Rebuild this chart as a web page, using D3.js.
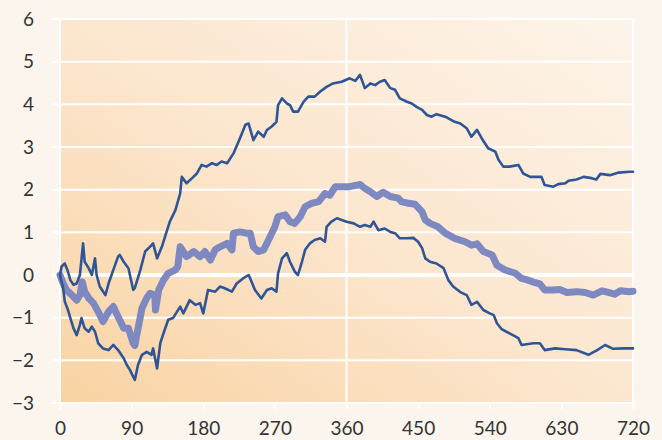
<!DOCTYPE html>
<html><head><meta charset="utf-8">
<script src="https://cdn.jsdelivr.net/npm/d3@7"></script>
<style>
html,body{margin:0;padding:0;background:#fcf5ee;}
svg{display:block;font-family:Lato,"Noto Sans",sans-serif;}
</style></head>
<body>
<svg id="chart" width="662" height="440"></svg>
<script>
// ---- data ----
const xTicks = [0, 90, 180, 270, 360, 450, 540, 630, 720];
const yTicks = [-3, -2, -1, 0, 1, 2, 3, 4, 5, 6];

const upperDays = [0,2,6,10,13,17,21,25,29,31,36,40,44,46,50,57,61,67,73,75,80,86,92,94,101,107,113,117,122,128,132,138,145,151,153,159,166,172,178,184,191,197,203,210,218,226,233,237,243,249,256,260,266,272,274,279,285,289,293,299,306,312,320,327,335,343,354,364,371,377,383,390,396,402,408,415,421,427,436,442,448,455,461,467,473,484,496,503,511,517,524,530,538,547,551,557,565,576,582,591,605,609,620,626,635,639,649,658,668,674,679,691,702,716,720];
const upperVals = [0,0.2,0.27,0.08,-0.12,-0.23,-0.2,0,0.74,0.31,0.16,0,0.39,0,-0.27,-0.47,-0.2,0.12,0.43,0.47,0.31,0.16,-0.35,-0.31,0.12,0.55,0.66,0.74,0.39,0.66,0.9,1.25,1.52,1.91,2.3,2.15,2.27,2.38,2.58,2.54,2.62,2.58,2.66,2.62,2.85,3.2,3.52,3.55,3.16,3.36,3.24,3.4,3.48,3.59,3.98,4.14,4.02,3.98,3.83,3.83,4.06,4.18,4.18,4.3,4.41,4.49,4.53,4.61,4.55,4.69,4.38,4.49,4.45,4.53,4.57,4.38,4.34,4.14,4.06,4.02,3.94,3.87,3.75,3.71,3.77,3.71,3.59,3.55,3.44,3.24,3.4,3.2,2.97,2.89,2.7,2.54,2.54,2.58,2.38,2.3,2.3,2.11,2.07,2.13,2.15,2.21,2.24,2.3,2.27,2.24,2.37,2.34,2.4,2.42,2.42];

const middleDays = [0,4,8,15,21,25,28,31,36,42,48,54,61,67,73,80,86,92,94,103,109,113,119,120,124,130,136,145,148,151,159,168,176,182,189,195,201,210,216,218,226,235,239,243,249,256,262,270,274,283,289,295,302,308,316,325,333,339,346,354,364,377,383,390,398,406,415,425,429,438,446,455,459,465,475,484,496,509,517,524,532,543,549,559,572,580,588,597,603,609,620,628,637,649,660,670,681,689,697,704,716,720];
const middleVals = [0,-0.2,-0.35,-0.47,-0.59,-0.47,-0.16,-0.39,-0.54,-0.66,-0.86,-1.09,-0.86,-0.74,-0.98,-1.25,-1.25,-1.6,-1.65,-0.78,-0.54,-0.43,-0.47,-0.82,-0.35,-0.12,0.04,0.12,0.2,0.66,0.43,0.55,0.43,0.55,0.35,0.59,0.66,0.74,0.59,0.98,1.01,0.98,0.98,0.66,0.55,0.59,0.82,1.13,1.37,1.41,1.25,1.21,1.37,1.6,1.68,1.72,1.91,1.87,2.07,2.07,2.07,2.12,2.03,1.95,1.84,1.94,1.84,1.8,1.72,1.68,1.66,1.48,1.29,1.21,1.13,0.98,0.86,0.78,0.7,0.73,0.55,0.47,0.23,0.12,0.04,-0.08,-0.12,-0.18,-0.21,-0.35,-0.35,-0.34,-0.41,-0.39,-0.41,-0.47,-0.37,-0.41,-0.45,-0.37,-0.39,-0.38];

const lowerDays = [0,4,6,10,13,17,21,25,27,31,36,40,44,48,54,61,67,73,80,84,88,94,98,103,109,115,117,122,126,130,136,142,151,155,163,170,176,180,186,195,201,207,216,222,230,237,239,245,253,260,266,272,274,279,285,289,295,299,304,308,314,320,327,333,335,341,348,354,360,369,377,383,390,394,400,408,415,421,427,436,444,450,455,459,465,473,482,488,494,503,511,517,524,532,540,545,549,555,561,576,580,595,603,609,622,635,649,664,675,685,695,708,720];
const lowerVals = [0,-0.31,-0.62,-0.82,-1.01,-1.25,-1.41,-1.17,-1.01,-1.25,-1.33,-1.21,-1.33,-1.6,-1.72,-1.76,-1.64,-1.76,-1.95,-2.11,-2.23,-2.46,-2.11,-1.87,-1.8,-1.87,-1.72,-2.19,-1.6,-1.37,-1.05,-1.01,-0.74,-0.9,-0.59,-0.7,-0.66,-0.9,-0.35,-0.39,-0.27,-0.31,-0.39,-0.2,-0.08,0,-0.08,-0.35,-0.55,-0.35,-0.31,-0.39,0.04,0.39,0.51,0.31,0.08,0,0.31,0.59,0.74,0.82,0.86,0.78,1.13,1.25,1.33,1.29,1.25,1.21,1.13,1.17,1.13,1.25,1.05,1.09,1.01,0.98,0.86,0.86,0.87,0.78,0.63,0.39,0.31,0.27,0.16,-0.12,-0.27,-0.4,-0.47,-0.7,-0.63,-0.82,-0.9,-0.94,-1.13,-1.27,-1.33,-1.48,-1.64,-1.6,-1.6,-1.76,-1.72,-1.74,-1.76,-1.87,-1.76,-1.64,-1.73,-1.72,-1.72];

// ---- drawing ----
const svg = d3.select("#chart");
const pL = 60, pR = 633, pT = 19, pB = 403;
const x = d3.scaleLinear().domain([0, 720]).range([pL, pR]);
const y = d3.scaleLinear().domain([-3, 6]).range([pB, pT]);

const defs = svg.append("defs");
const grad = defs.append("linearGradient").attr("id", "bg")
  .attr("x1", 0).attr("y1", 1).attr("x2", 1).attr("y2", 0);
grad.append("stop").attr("offset", 0).attr("stop-color", "#f9d3a2");
grad.append("stop").attr("offset", 0.45).attr("stop-color", "#fce5cc");
grad.append("stop").attr("offset", 1).attr("stop-color", "#fdf4ea");

svg.append("rect").attr("x", pL).attr("y", pT)
  .attr("width", pR - pL).attr("height", pB - pT)
  .attr("fill", "url(#bg)");

// horizontal gridlines (with left tick extension)
svg.append("g").selectAll("line").data(yTicks).join("line")
  .attr("x1", pL - 8).attr("x2", pR)
  .attr("y1", d => y(d)).attr("y2", d => y(d))
  .attr("stroke", "#fff").attr("stroke-width", d => d === 0 ? 4 : 2);

// vertical grid line at 360 and frame edges
svg.append("line").attr("x1", x(360)).attr("x2", x(360))
  .attr("y1", pT).attr("y2", pB).attr("stroke", "#fff").attr("stroke-width", 2);
svg.append("line").attr("x1", pL).attr("x2", pL)
  .attr("y1", pT).attr("y2", pB + 6).attr("stroke", "#fff").attr("stroke-width", 2);
svg.append("line").attr("x1", pR).attr("x2", pR)
  .attr("y1", pT).attr("y2", pB + 6).attr("stroke", "#fff").attr("stroke-width", 2);

// x axis ticks and labels
const xAxis = d3.axisBottom(x).tickValues(xTicks).tickSize(6).tickPadding(13);
const gx = svg.append("g").attr("transform", `translate(0,${pB})`).call(xAxis);
gx.select(".domain").remove();
gx.selectAll(".tick line").attr("stroke", "#fff").attr("stroke-width", 2);
gx.selectAll(".tick text").attr("fill", "#333").attr("font-size", 19)
  .attr("font-family", "Lato, 'Noto Sans', sans-serif");

// y axis labels
const yAxis = d3.axisLeft(y).tickValues(yTicks).tickSize(0).tickPadding(26)
  .tickFormat(d3.format("d"));
const gy = svg.append("g").attr("transform", `translate(${pL},0)`).call(yAxis);
gy.select(".domain").remove();
gy.selectAll(".tick text").attr("fill", "#333").attr("font-size", 19)
  .attr("font-family", "Lato, 'Noto Sans', sans-serif");

// series
const mk = (days, vals) => days.map((d, i) => [d, vals[i]]);
const line = d3.line().x(d => x(d[0])).y(d => y(d[1]));

svg.append("path").datum(mk(middleDays, middleVals)).attr("d", line)
  .attr("fill", "none").attr("stroke", "#7d89c0").attr("stroke-width", 7)
  .attr("stroke-linejoin", "round").attr("stroke-linecap", "round");
[mk(upperDays, upperVals), mk(lowerDays, lowerVals)].forEach(s => {
  svg.append("path").datum(s).attr("d", line)
    .attr("fill", "none").attr("stroke", "#2f5597").attr("stroke-width", 2.6)
    .attr("stroke-linejoin", "round").attr("stroke-linecap", "round");
});
</script>
</body></html>
